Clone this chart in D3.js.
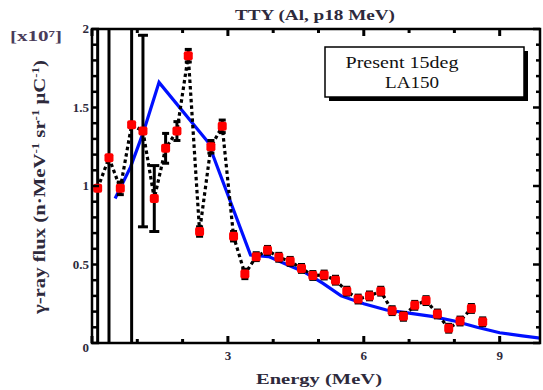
<!DOCTYPE html>
<html><head><meta charset="utf-8">
<script src="https://cdn.jsdelivr.net/npm/d3@7"></script>
<style>body{margin:0;background:#fff}svg{display:block}</style>
</head><body><svg id="c" width="543" height="390"></svg>
<script>
// ---- data ----
const titleText = "TTY (Al, p18 MeV)";
const xLabelText = "Energy (MeV)";
const multiplierText = "[x10⁷]";
const legendLabels = ["Present 15deg", "LA150"];
const xMajorTicks = [0, 3, 6, 9];
const xMinorTicks = [1, 2, 4, 5, 7, 8];
const xTickLabels = ["3", "6", "9"];
const xTickLabelValues = [3, 6, 9];
const yTicks = [0, 0.5, 1, 1.5, 2];
const yMinorTicks = [0.1,0.2,0.3,0.4,0.6,0.7,0.8,0.9,1.1,1.2,1.3,1.4,1.6,1.7,1.8,1.9];
const yTickLabels = ["0", "0.5", "1", "1.5", "2"];

const measEnergy = [0.125,0.375,0.625,0.875,1.125,1.375,1.625,1.875,2.125,2.375,2.625,2.875,3.125,3.375,3.625,3.875,4.125,4.375,4.625,4.875,5.125,5.375,5.625,5.875,6.125,6.375,6.625,6.875,7.125,7.375,7.625,7.875,8.125,8.375,8.625];
const measFlux   = [0.985,1.18,0.985,1.39,1.35,0.92,1.24,1.35,1.83,0.71,1.25,1.38,0.68,0.44,0.55,0.59,0.546,0.52,0.475,0.43,0.433,0.40,0.33,0.28,0.30,0.33,0.206,0.17,0.24,0.27,0.185,0.094,0.14,0.22,0.135];
const measErr    = [3,3,0.04,3,0.61,0.21,0.095,0.06,0.04,0.03,0.04,0.04,0.03,0.03,0.025,0.025,0.025,0.025,0.025,0.025,0.025,0.025,0.025,0.025,0.025,0.025,0.025,0.025,0.025,0.025,0.025,0.025,0.025,0.025,0.025];
const measLineCount = 34; // dotted line joins the first 34 points

const calcEnergy = [0.51,0.85,1.13,1.48,2.56,3.5,3.9,4.3,4.7,5.1,5.5,6.0,6.5,7.0,7.5,8.0,8.5,9.0,9.5,9.9];
const calcFlux   = [0.92,1.12,1.34,1.66,1.28,0.56,0.55,0.50,0.45,0.38,0.30,0.25,0.21,0.19,0.17,0.14,0.10,0.065,0.045,0.03];

// ---- layout ----
const svg = d3.select("#c");
const L = 92, R = 540, T = 29, B = 343;
const x = d3.scaleLinear().domain([0, 9.89]).range([L, R]);
const y = d3.scaleLinear().domain([0, 2]).range([B, T]);
const txtCol = "#2e2a3c";

svg.append("defs").append("clipPath").attr("id","clip")
  .append("rect").attr("x",L).attr("y",T).attr("width",R-L).attr("height",B-T);

const plot = svg.append("g").attr("clip-path","url(#clip)");

// calc line (blue)
const line = d3.line().x(d=>x(d[0])).y(d=>y(d[1]));
plot.append("path").datum(calcEnergy.map((e,i)=>[e,calcFlux[i]]))
  .attr("d", line).attr("fill","none").attr("stroke","#0010ff").attr("stroke-width",3.2);

// error bars
const meas = measEnergy.map((e,i)=>({e, f:measFlux[i], err:measErr[i]}));
const eb = plot.append("g").attr("stroke","#000").attr("stroke-width",3);
meas.forEach(d=>{
  const y1 = y(d.f + d.err), y2 = y(d.f - d.err);
  eb.append("line").attr("x1",x(d.e)).attr("x2",x(d.e)).attr("y1",y1).attr("y2",y2);
  const cw = d.err > 0.15 ? 5 : 3.5;
  eb.append("line").attr("x1",x(d.e)-cw).attr("x2",x(d.e)+cw).attr("y1",y1).attr("y2",y1);
  eb.append("line").attr("x1",x(d.e)-cw).attr("x2",x(d.e)+cw).attr("y1",y2).attr("y2",y2);
});

// dotted line through data
plot.append("path").datum(meas.slice(0, measLineCount).map(d=>[d.e,d.f]))
  .attr("d", line).attr("fill","none").attr("stroke","#000").attr("stroke-width",3.2)
  .attr("stroke-dasharray","3.5,3");

// markers
plot.selectAll("rect.m").data(meas).enter().append("rect")
  .attr("x", d=>x(d.e)-4.5).attr("y", d=>y(d.f)-4.5).attr("width",9).attr("height",9)
  .attr("rx",2).attr("fill","#ff0000");

// frame
svg.append("rect").attr("x",L).attr("y",T).attr("width",R-L).attr("height",B-T)
  .attr("fill","none").attr("stroke","#000").attr("stroke-width",2.5);

// ticks
const tk = svg.append("g").attr("stroke","#000");
xMajorTicks.forEach(v=>{
  tk.append("line").attr("x1",x(v)).attr("x2",x(v)).attr("y1",B).attr("y2",B-7).attr("stroke-width",3);
  tk.append("line").attr("x1",x(v)).attr("x2",x(v)).attr("y1",T).attr("y2",T+7).attr("stroke-width",3);
});
xMinorTicks.forEach(v=>{
  tk.append("line").attr("x1",x(v)).attr("x2",x(v)).attr("y1",B).attr("y2",B-4).attr("stroke-width",3);
  tk.append("line").attr("x1",x(v)).attr("x2",x(v)).attr("y1",T).attr("y2",T+4).attr("stroke-width",3);
});
yTicks.forEach(v=>{
  tk.append("line").attr("x1",L).attr("x2",L+7).attr("y1",y(v)).attr("y2",y(v)).attr("stroke-width",2.5);
  tk.append("line").attr("x1",R).attr("x2",R-7).attr("y1",y(v)).attr("y2",y(v)).attr("stroke-width",2.5);
});
yMinorTicks.forEach(v=>{
  tk.append("line").attr("x1",L).attr("x2",L+5).attr("y1",y(v)).attr("y2",y(v)).attr("stroke-width",2.5);
  tk.append("line").attr("x1",R).attr("x2",R-4).attr("y1",y(v)).attr("y2",y(v)).attr("stroke-width",2.5);
});

// tick labels
const fontLbl = "'Liberation Serif', 'DejaVu Serif', serif";
xTickLabelValues.forEach((v,i)=>{
  svg.append("text").attr("x",x(v)).attr("y",B+17).attr("text-anchor","middle")
    .attr("font-family",fontLbl).attr("font-weight","bold").attr("font-size",13)
    .attr("fill",txtCol).text(xTickLabels[i]);
});
yTicks.forEach((v,i)=>{
  svg.append("text").attr("x",L-3).attr("y",y(v)+(v===0?9:4)).attr("text-anchor","end")
    .attr("font-family",fontLbl).attr("font-weight","bold").attr("font-size",13)
    .attr("fill",txtCol).text(yTickLabels[i]);
});

// title
svg.append("text").attr("x",315).attr("y",20).attr("text-anchor","middle")
  .attr("font-family",fontLbl).attr("font-weight","bold").attr("font-size",14)
  .attr("textLength",160).attr("lengthAdjust","spacingAndGlyphs")
  .attr("fill",txtCol).text(titleText);

// x label
svg.append("text").attr("x",319).attr("y",384).attr("text-anchor","middle")
  .attr("font-family",fontLbl).attr("font-weight","bold").attr("font-size",15)
  .attr("textLength",126).attr("lengthAdjust","spacingAndGlyphs")
  .attr("fill",txtCol).text(xLabelText);

// multiplier
svg.append("text").attr("x",36).attr("y",41).attr("text-anchor","middle")
  .attr("font-family",fontLbl).attr("font-weight","bold").attr("font-size",14)
  .attr("textLength",52).attr("lengthAdjust","spacingAndGlyphs")
  .attr("fill","#4a3c5a").text(multiplierText);

// y label
const yl = svg.append("text").attr("transform","translate(45,187) rotate(-90)")
  .attr("text-anchor","middle")
  .attr("font-family",fontLbl).attr("font-weight","bold").attr("font-size",16)
  .attr("textLength",254).attr("lengthAdjust","spacingAndGlyphs")
  .attr("fill",txtCol);
yl.append("tspan").text("γ-ray flux (n·MeV");
yl.append("tspan").attr("dy",-6).attr("font-size",10).text("-1");
yl.append("tspan").attr("dy",6).text(" sr");
yl.append("tspan").attr("dy",-6).attr("font-size",10).text("-1");
yl.append("tspan").attr("dy",6).text(" μC");
yl.append("tspan").attr("dy",-6).attr("font-size",10).text("-1");
yl.append("tspan").attr("dy",6).text(")");

// legend box
const lg = svg.append("g");
lg.append("rect").attr("x",329).attr("y",51).attr("width",199).attr("height",50).attr("fill","#000");
lg.append("rect").attr("x",325).attr("y",47).attr("width",199).attr("height",50)
  .attr("fill","#fff").attr("stroke","#000").attr("stroke-width",1.5);
lg.append("text").attr("x",402).attr("y",68).attr("text-anchor","middle")
  .attr("font-family",fontLbl).attr("font-size",17)
  .attr("textLength",113).attr("lengthAdjust","spacingAndGlyphs")
  .attr("fill","#111").text(legendLabels[0]);
lg.append("text").attr("x",412).attr("y",88).attr("text-anchor","middle")
  .attr("font-family",fontLbl).attr("font-size",17)
  .attr("textLength",54).attr("lengthAdjust","spacingAndGlyphs")
  .attr("fill","#111").text(legendLabels[1]);
</script>
</body></html>
